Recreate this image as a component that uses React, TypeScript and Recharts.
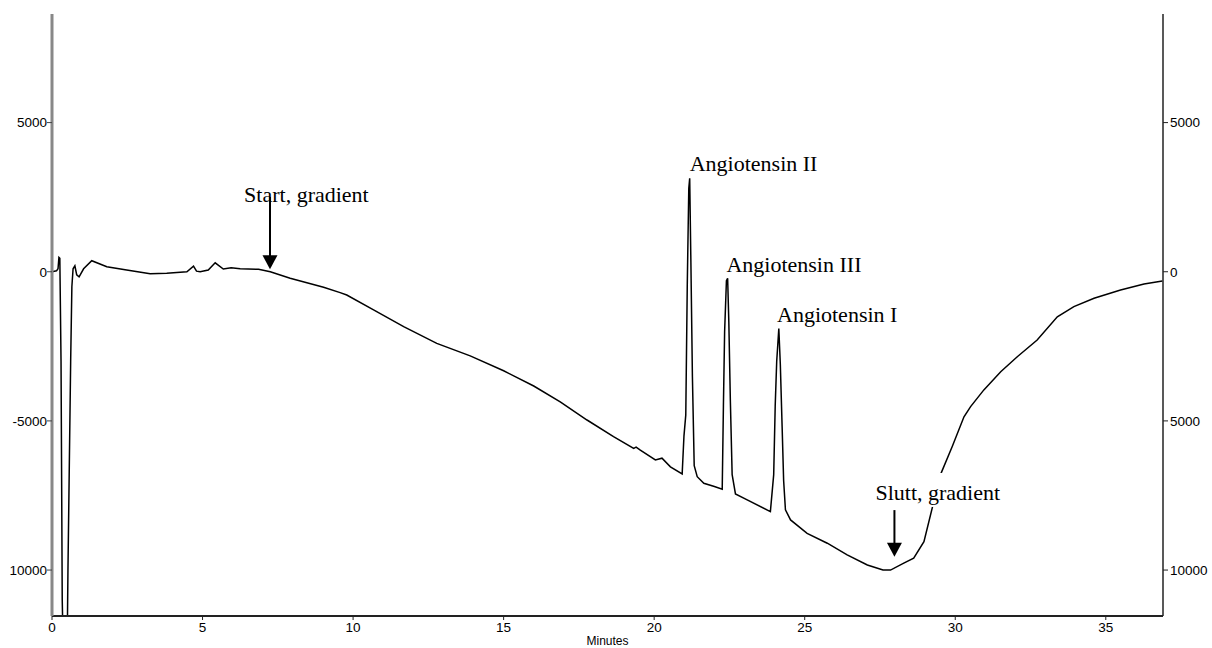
import React from 'react';
import { LineChart, Line, XAxis, YAxis, ReferenceLine, ReferenceDot } from 'recharts';

// retention time (minutes) and detector signal
const minutes = [
  0.0, 0.15, 0.2, 0.23, 0.26, 0.3, 0.34, 0.38, 0.5, 0.53, 0.62, 0.66, 0.7, 0.76, 0.82, 0.9, 1.05, 1.32,
  1.82, 2.48, 3.26, 3.81, 4.48, 4.7, 4.8, 4.92, 5.19, 5.42, 5.69, 5.95, 6.25, 6.86, 7.25, 7.91, 9.02,
  9.57, 9.79, 10.68, 11.68, 12.78, 13.89, 15.0, 16.0, 16.88, 17.77, 18.65, 19.32, 19.4, 19.54, 20.04,
  20.26, 20.54, 20.93, 20.99, 21.05, 21.1, 21.15, 21.18, 21.22, 21.27, 21.33, 21.43, 21.65, 22.0,
  22.26, 22.3, 22.34, 22.4, 22.44, 22.48, 22.53, 22.59, 22.7, 23.09, 23.86, 23.97, 24.02, 24.07,
  24.14, 24.19, 24.25, 24.3, 24.36, 24.53, 25.08, 25.75, 26.41, 27.08, 27.6, 27.85, 28.29, 28.62,
  28.96, 29.24, 29.51, 29.9, 30.29, 30.51, 30.95, 31.51, 32.06, 32.72, 33.39, 33.94, 34.61, 35.49,
  36.27, 36.88,
];
const signal = [
  0, 30, 100, 480, 450, -3000, -11000, -13000, -13000, -10000, -3000, -500, 100, 200, -100, -170, 100, 370,
  170, 60, -70, -50, 0, 190, 20, 0, 60, 300, 90, 130, 100, 80, 0, -220, -520,
  -700, -780, -1280, -1840, -2400, -2820, -3320, -3830, -4360, -4970, -5530, -5920, -5880, -5980, -6310,
  -6250, -6540, -6780, -5500, -4800, -400, 2800, 3130, 300, -3500, -6500, -6870, -7090, -7200,
  -7290, -4500, -2000, -300, -220, -1700, -4300, -6800, -7450, -7650, -8040, -6800, -4500, -3000,
  -1900, -3100, -5200, -7000, -7980, -8320, -8770, -9100, -9490, -9830, -10000, -10000, -9770, -9600,
  -9050, -7900, -6800, -5860, -4860, -4520, -3960, -3350, -2850, -2290, -1510, -1170, -890, -610,
  -410, -310,
];

const xTicks = [0, 5, 10, 15, 20, 25, 30, 35];
const yTicks = [-10000, -5000, 0, 5000];

// annotations: text, time, signal at baseline
const labelText = ['Start, gradient', 'Angiotensin II', 'Angiotensin III', 'Angiotensin I', 'Slutt, gradient'];
const labelTime = [6.38, 21.18, 22.4, 24.08, 27.35];
const labelSignal = [2330, 3370, 0, -1675, -7650];

// arrows: time, tail signal, tip signal
const arrowTime = [7.24, 27.98];
const arrowTail = [2510, -7990];
const arrowTip = [80, -9550];

const data = minutes.map((t, i) => ({ t, v: signal[i] }));

const serif = '"Liberation Serif", "Times New Roman", serif';
const sans = '"Liberation Sans", Arial, sans-serif';
const tickStyle = { fontSize: 13.5, fill: '#000', fontFamily: sans };

const ArrowHead = (props: any) => {
  const { cx, cy } = props;
  return <polygon points={`${cx},${cy} ${cx - 7.5},${cy - 14} ${cx + 7.5},${cy - 14}`} fill="#000" />;
};

const makeLabel = (text: string, boxed: boolean) => (props: any) => {
  const { cx, cy } = props;
  return (
    <g>
      {boxed && <rect x={cx - 2} y={cy - 27} width={124} height={34} fill="#fff" />}
      <text x={cx} y={cy} fontFamily={serif} fontSize={22} fill="#000" textAnchor="start">
        {text}
      </text>
    </g>
  );
};

const App: React.FC = () => {
  return (
    <div style={{ position: 'absolute', left: 0, top: 0, background: '#fff' }}>
      <LineChart width={1212} height={648} data={data} margin={{ top: 14, right: 0, bottom: 0, left: 0 }}>
        <XAxis
          dataKey="t"
          type="number"
          domain={[0, 36.9]}
          ticks={xTicks}
          allowDataOverflow
          height={32}
          tickSize={4}
          tickMargin={2}
          stroke="#222"
          axisLine={{ stroke: '#222', strokeWidth: 2 }}
          tickLine={{ stroke: '#222' }}
          tick={tickStyle}
          label={{ value: 'Minutes', position: 'insideBottom', offset: 3, fontSize: 12, fill: '#000', fontFamily: sans }}
        />
        <XAxis
          xAxisId="top"
          orientation="top"
          dataKey="t"
          type="number"
          domain={[0, 36.9]}
          height={0}
          tick={false}
          tickLine={false}
          axisLine={{ stroke: '#333', strokeWidth: 2 }}
        />
        <YAxis
          yAxisId="left"
          domain={[-11540, 8640]}
          ticks={yTicks}
          allowDataOverflow
          width={52}
          tickSize={5}
          tickMargin={0}
          axisLine={{ stroke: '#888', strokeWidth: 3 }}
          tickLine={{ stroke: '#444' }}
          tick={tickStyle}
          tickFormatter={(v: number) => (v === -10000 ? '10000' : String(v))}
        />
        <YAxis
          yAxisId="right"
          orientation="right"
          domain={[-11540, 8640]}
          ticks={yTicks}
          allowDataOverflow
          width={49}
          tickSize={5}
          tickMargin={2}
          axisLine={{ stroke: '#222', strokeWidth: 1.5 }}
          tickLine={{ stroke: '#222' }}
          tick={{ ...tickStyle, textAnchor: 'start' }}
          tickFormatter={(v: number) => String(Math.abs(v))}
        />
        <Line
          yAxisId="left"
          type="linear"
          dataKey="v"
          stroke="#000"
          strokeWidth={1.5}
          dot={false}
          isAnimationActive={false}
        />
        {arrowTime.map((t, i) => (
          <ReferenceLine
            key={`al${i}`}
            yAxisId="left"
            segment={[
              { x: t, y: arrowTail[i] },
              { x: t, y: arrowTip[i] + 400 },
            ]}
            stroke="#000"
            strokeWidth={2}
          />
        ))}
        {arrowTime.map((t, i) => (
          <ReferenceDot key={`ah${i}`} yAxisId="left" x={t} y={arrowTip[i]} r={0} shape={ArrowHead} />
        ))}
        {labelText.map((txt, i) => (
          <ReferenceDot
            key={`lb${i}`}
            yAxisId="left"
            x={labelTime[i]}
            y={labelSignal[i]}
            r={0}
            shape={makeLabel(txt, i === 4)}
          />
        ))}
      </LineChart>
    </div>
  );
};

export default App;
